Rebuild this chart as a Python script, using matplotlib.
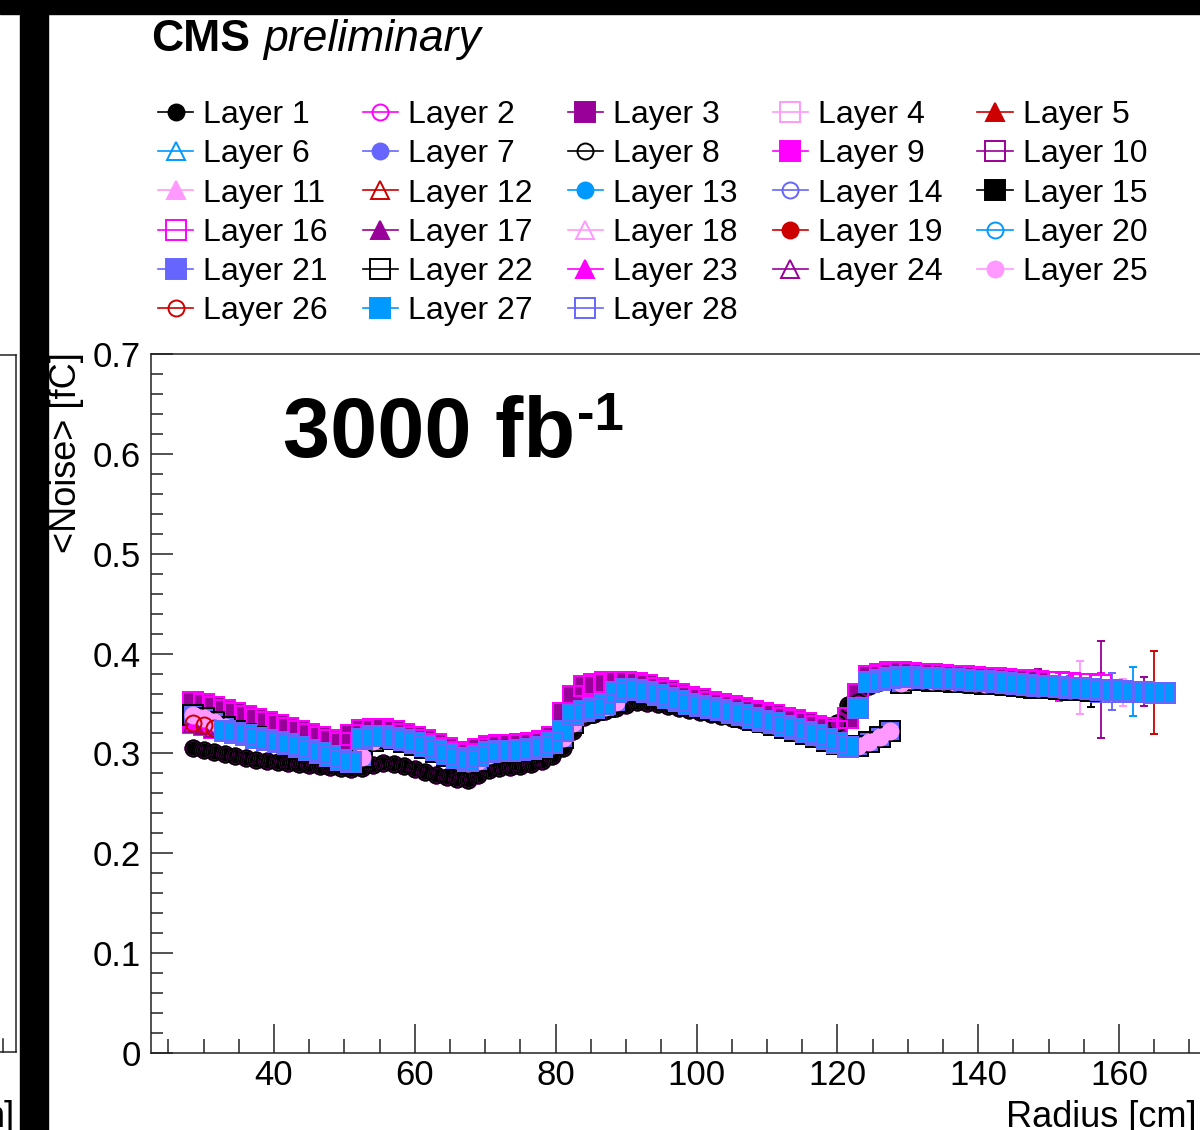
import matplotlib
matplotlib.use("Agg")
import matplotlib.pyplot as plt
from matplotlib.lines import Line2D
from matplotlib.patches import Rectangle
from matplotlib.ticker import MultipleLocator, FuncFormatter
import numpy as np

plt.rcParams['font.family'] = ['Liberation Sans', 'DejaVu Sans']

# radius bin centres [cm]
radius = np.arange(28.5, 167.0, 1.5)

# mean noise [fC] per radius bin, four groups of layers
noise_low = [0.305, 0.303, 0.301, 0.299, 0.297, 0.295, 0.293, 0.292, 0.291, 0.290,
             0.289, 0.288, 0.287, 0.286, 0.285, 0.284, 0.285, 0.288, 0.290, 0.289,
             0.287, 0.284, 0.281, 0.278, 0.276, 0.274, 0.273, 0.278, 0.283, 0.285,
             0.286, 0.287, 0.289, 0.292, 0.297, 0.305, 0.322, 0.336, 0.339, 0.342,
             0.345, 0.348, 0.352, 0.351, 0.349, 0.347, 0.345, 0.343, 0.341, 0.339,
             0.337, 0.335, 0.333, 0.331, 0.329, 0.327, 0.325, 0.323, 0.321, 0.319,
             0.317, 0.330, 0.348, 0.352, 0.368, 0.372, 0.373, 0.373, 0.373, 0.373,
             0.372, 0.372, 0.371, 0.370, 0.370, 0.369, 0.368, 0.368, 0.367, 0.366,
             0.366, 0.365, 0.364, 0.364, 0.363, 0.362, 0.362, 0.361, 0.360, 0.360,
             0.359, 0.358, 0.358]
noise_mid = [0.330, 0.328, 0.325, 0.322, 0.320, 0.318, 0.315, 0.313, 0.311, 0.309,
             0.306, 0.303, 0.300, 0.297, 0.293, 0.291, 0.314, 0.317, 0.317, 0.315,
             0.313, 0.310, 0.307, 0.303, 0.299, 0.295, 0.292, 0.297, 0.301, 0.302,
             0.302, 0.303, 0.304, 0.306, 0.310, 0.322, 0.338, 0.342, 0.345, 0.349,
             0.362, 0.365, 0.364, 0.362, 0.359, 0.356, 0.353, 0.350, 0.347, 0.345,
             0.343, 0.340, 0.338, 0.335, 0.332, 0.330, 0.327, 0.324, 0.321, 0.318,
             0.314, 0.310, 0.306, 0.345, 0.372, 0.374, 0.376, 0.377, 0.377, 0.376,
             0.376, 0.375, 0.375, 0.374, 0.373, 0.373, 0.372, 0.371, 0.370, 0.369,
             0.368, 0.368, 0.367, 0.366, 0.366, 0.365, 0.364, 0.364, 0.363, 0.362,
             0.362, 0.361, 0.361]
noise_high = [0.352, 0.349, 0.346, 0.343, 0.340, 0.337, 0.334, 0.331, 0.328, 0.325,
              0.322, 0.319, 0.316, 0.313, 0.310, 0.318, 0.323, 0.324, 0.324, 0.322,
              0.319, 0.316, 0.313, 0.309, 0.305, 0.301, 0.299, 0.304, 0.307, 0.308,
              0.308, 0.309, 0.310, 0.312, 0.316, 0.340, 0.358, 0.368, 0.370, 0.372,
              0.372, 0.372, 0.371, 0.369, 0.366, 0.363, 0.360, 0.357, 0.355, 0.352,
              0.350, 0.347, 0.345, 0.342, 0.340, 0.338, 0.335, 0.333, 0.330, 0.327,
              0.325, 0.322, 0.335, 0.360, 0.378, 0.380, 0.382, 0.382, 0.381, 0.380,
              0.380, 0.379, 0.378, 0.378, 0.377, 0.376, 0.376, 0.375, 0.374, 0.374,
              0.373, 0.372, 0.372, 0.371, 0.370, 0.370, 0.369, 0.368, 0.368, 0.367,
              0.367, 0.366, 0.366]
noise_late = [0.338, 0.335, 0.331, 0.326, 0.322, 0.319, 0.316, 0.313, 0.311, 0.308,
              0.305, 0.302, 0.299, 0.296, 0.292, 0.290, 0.296, 0.312, 0.315, 0.314,
              0.311, 0.308, 0.305, 0.301, 0.297, 0.293, 0.290, 0.292, 0.298, 0.300,
              0.301, 0.302, 0.303, 0.305, 0.308, 0.315, 0.330, 0.340, 0.343, 0.346,
              0.352, 0.362, 0.362, 0.360, 0.357, 0.354, 0.351, 0.348, 0.346, 0.343,
              0.341, 0.339, 0.336, 0.333, 0.331, 0.328, 0.325, 0.322, 0.319, 0.316,
              0.312, 0.309, 0.306, 0.307, 0.311, 0.316, 0.322, 0.371, 0.374, 0.374,
              0.373, 0.373, 0.372, 0.372, 0.371, 0.370, 0.370, 0.369, 0.368, 0.367,
              0.366, 0.366, 0.365, 0.364, 0.364, 0.363, 0.362, 0.362, 0.361, 0.360,
              0.360, 0.359, 0.359]
noise_err = 0.004

layers = list(range(1, 29))
layer_group = ['low', 'low', 'high', 'high', 'mid', 'mid', 'mid',
               'low', 'mid', 'high', 'mid', 'mid', 'mid', 'mid',
               'late', 'high', 'mid', 'mid', 'late', 'mid', 'late',
               'late', 'mid', 'mid', 'late', 'mid', 'mid', 'mid']
first_radius = [28.5, 28.5, 28.5, 28.5, 28.5, 28.5, 28.5,
                28.5, 28.5, 28.5, 28.5, 28.5, 28.5, 28.5,
                28.5, 28.5, 28.5, 28.5, 28.5, 28.5, 28.5,
                28.5, 28.5, 28.5, 28.5, 28.5, 33.0, 33.0]
last_radius = [147.0, 148.5, 148.5, 150.0, 150.0, 151.5, 151.5,
               153.0, 153.0, 153.0, 154.5, 154.5, 156.0, 156.0,
               156.0, 157.5, 157.5, 154.5, 159.0, 162.0, 159.0,
               156.0, 151.5, 163.5, 160.5, 165.0, 166.5, 166.5]
last_err = [0.010, 0.010, 0.012, 0.010, 0.010, 0.010, 0.010,
            0.010, 0.012, 0.010, 0.010, 0.010, 0.010, 0.010,
            0.010, 0.012, 0.049, 0.027, 0.010, 0.025, 0.019,
            0.017, 0.014, 0.015, 0.014, 0.042, 0.006, 0.006]

profiles = {'low': np.array(noise_low), 'mid': np.array(noise_mid),
            'high': np.array(noise_high), 'late': np.array(noise_late)}

# ROOT style cycles: 7 colours, 6 markers (filled / open)
colors = ['#000000', '#ff00ff', '#990099', '#ff99ff', '#cc0000', '#0099ff', '#6666ff']
markers = ['o', 'o', 's', 's', '^', '^']
msize = {'o': 11.5, 's': 14.0, '^': 13.0}

W, H = 1200, 1130
fig = plt.figure(figsize=(W / 100, H / 100), dpi=100)
ax = fig.add_axes([150.8 / W, 77 / H, 1073.8 / W, 699 / H])

handles = []
for i, layer in enumerate(layers):
    col = colors[i % 7]
    mk = markers[i % 6]
    filled = (i % 2 == 0)
    sel = (radius >= first_radius[i] - 0.01) & (radius <= last_radius[i] + 0.01)
    x = radius[sel]
    y = profiles[layer_group[i]][sel]
    e = np.full(len(x), noise_err)
    e[-1] = last_err[i]
    fc = col if filled else 'none'
    ax.errorbar(x, y, yerr=e, fmt=mk, ms=msize[mk], mfc=fc, mec=col, mew=1.4,
                ecolor=col, elinewidth=1.3, capsize=3, capthick=1.3, linestyle='none')
    handles.append(Line2D([], [], color=col, lw=1.2, marker=mk, ms=msize[mk],
                          mfc=fc, mec=col, mew=1.4, label=f'Layer {layer}'))

ax.set_xlim(22.5, 175)
ax.set_ylim(0, 0.7)
ax.xaxis.set_major_locator(MultipleLocator(20))
ax.xaxis.set_minor_locator(MultipleLocator(5))
ax.yaxis.set_major_locator(MultipleLocator(0.1))
ax.yaxis.set_minor_locator(MultipleLocator(0.02))
ax.yaxis.set_major_formatter(FuncFormatter(lambda v, p: '0' if abs(v) < 1e-9 else f'{v:.1f}'))
ax.xaxis.set_major_formatter(FuncFormatter(lambda v, p: f'{v:.0f}'))
ax.tick_params(axis='both', which='both', direction='in', top=False, right=False,
               width=1.1, labelsize=25, color='#222222')
ax.tick_params(axis='x', which='major', length=21, pad=4)
ax.tick_params(axis='x', which='minor', length=10)
ax.tick_params(axis='y', which='major', length=16, pad=7)
ax.tick_params(axis='y', which='minor', length=8.5)
for s in ax.spines.values():
    s.set_linewidth(1.1)
    s.set_color('#222222')

# legend, row-major order like ROOT's TLegend
order = [i for c in range(5) for i in range(c, 28, 5)]
fig.legend([handles[i] for i in order], [handles[i].get_label() for i in order],
           ncol=5, loc='upper left', bbox_to_anchor=(158 / W, 1 - 100 / H),
           frameon=False, fontsize=23, handlelength=1.1, handletextpad=0.31,
           columnspacing=1.1, labelspacing=0.29, borderpad=0, borderaxespad=0)

fig.text(67 / W, 1 - 352 / H, '<Noise> [fC]', rotation=90, ha='center', va='top', fontsize=26)
fig.text(1197 / W, 3 / H, 'Radius [cm]', ha='right', va='baseline', fontsize=26)

fig.text(151 / W, 1 - 51 / H, 'CMS', ha='left', va='baseline', fontsize=32, weight='bold')
fig.text(263 / W, 1 - 51 / H, 'preliminary', ha='left', va='baseline', fontsize=32, style='italic')

fig.text(283 / W, 1 - 457 / H, '3000 fb', ha='left', va='baseline', fontsize=61, weight='bold')
fig.text(577 / W, 1 - 430 / H, '-1', ha='left', va='baseline', fontsize=38, weight='bold')

# screenshot surroundings: black borders and edge of the neighbouring plot
fig.add_artist(Rectangle((0, 1 - 14 / H), 1, 14 / H, transform=fig.transFigure,
                         color='black', zorder=20))
fig.add_artist(Rectangle((20 / W, 0), 28 / W, 1, transform=fig.transFigure,
                         color='black', zorder=20))
for xs, ys in [([0, 16], [355, 355]), ([16, 16], [355, 1052]), ([0, 16], [1052, 1052]),
               ([3, 3], [1039, 1052])]:
    fig.add_artist(Line2D([v / W for v in xs], [1 - v / H for v in ys],
                          transform=fig.transFigure, color='#222222', lw=1.1))
fig.text(15 / W, 3 / H, 'm]', ha='right', va='baseline', fontsize=26)

fig.savefig('out.png', dpi=100)
